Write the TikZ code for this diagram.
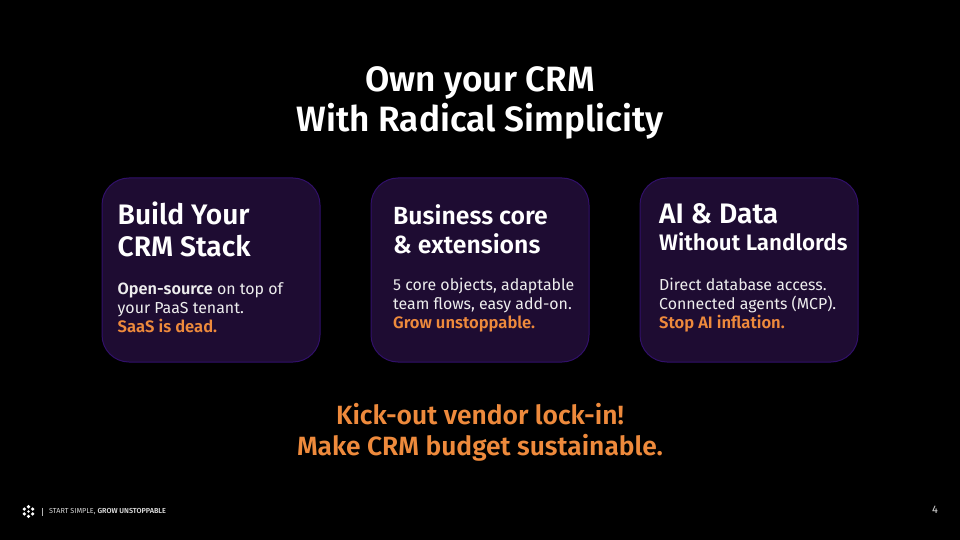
\documentclass[tikz,border=0pt]{standalone}
\usepackage{xcolor}
\usepackage{fontspec}
\usetikzlibrary{positioning,calc}
\setmainfont[BoldFont={Fira Sans SemiBold}]{Fira Sans}
\definecolor{cardfill}{HTML}{1E0C32}
\definecolor{cardline}{HTML}{31106A}
\definecolor{accent}{HTML}{EE8A3C}
\definecolor{bodytext}{HTML}{EDEDED}
\newcommand{\sized}[1]{\fontsize{#1}{#1}\selectfont}
\tikzset{
  card/.style={draw=cardline, fill=cardfill, line width=1pt, rounded corners=27pt,
               minimum width=218pt, minimum height=184pt, inner sep=0pt},
  subhead/.style={text=white, font=\sized{28.2}\bfseries, anchor=base west, inner sep=0pt},
  smallhead/.style={text=white, font=\sized{24.8}\bfseries, anchor=base west, inner sep=0pt},
  line/.style={text=bodytext, font=\sized{15.9}, anchor=base west, inner sep=0pt},
  hot/.style={text=accent, font=\sized{16.6}\bfseries, anchor=base west, inner sep=0pt},
  title/.style={text=white, font=\sized{35.2}\bfseries, anchor=base, inner sep=0pt},
  closing/.style={text=accent, font=\sized{26.4}\bfseries, anchor=base, inner sep=0pt},
  petal/.style={fill=white, inner sep=0pt, minimum size=3.6pt, circle}
}
\begin{document}
\begin{tikzpicture}[x=1pt, y=-1pt]
   \useasboundingbox[fill=black] (0,0) rectangle (960,540);

   % Title
   \node[title] (title1) at (480, 92) {Own your CRM};
   \node[title] (title2) at (480, 132) {With Radical Simplicity};

   % Cards
   \node[card] (build) at (211, 270) {};
   \node[card] (core) at (480, 270) {};
   \node[card] (data) at (749, 270) {};

   \node[subhead] (build_a) at (117.5, 224) {Build Your};
   \node[subhead] (build_b) at (117.5, 256) {CRM Stack};
   \node[line] (build_c) at (117.5, 294) {\textbf{\sized{16.3}Open-source} on top of};
   \node[line] (build_d) at (117.5, 313) {your PaaS tenant.};
   \node[hot] (build_e) at (117.5, 332) {SaaS is dead.};

   \node[smallhead] (core_a) at (393, 224) {Business core};
   \node[smallhead] (core_b) at (393, 253) {\& extensions};
   \node[line] (core_c) at (393, 290) {5 core objects, adaptable};
   \node[line] (core_d) at (393, 309) {team flows, easy add-on.};
   \node[hot] (core_e) at (393, 328) {Grow unstoppable.};

   \node[subhead] (data_a) at (659, 223) {AI \& Data};
   \node[smallhead, font=\sized{22.4}\bfseries] (data_b) at (659, 250) {Without Landlords};
   \node[line] (data_c) at (659, 290) {Direct database access.};
   \node[line] (data_d) at (659, 309) {Connected agents (MCP).};
   \node[hot] (data_e) at (659, 328) {Stop AI inflation.};

   % Closing lines
   \node[closing] (close1) at (480, 424) {Kick-out vendor lock-in!};
   \node[closing] (close2) at (480, 455) {Make CRM budget sustainable.};

   % Footer
   \foreach \a in {0,60,...,300}
     \node[petal] at ($(28.5,511.5)+(\a+30:4.8pt)$) {};
   \node[petal, minimum size=2.6pt] (logo) at (28.5, 511.5) {};
   \draw[white!70!black, line width=0.4pt] (42, 507.5) -- (42, 515.5);
   \node[text=white!85!black, font=\sized{7.25}, anchor=west, inner sep=0pt] (slogan) at (49, 511.5)
     {START SIMPLE, \textbf{GROW UNSTOPPABLE}};
   \node[text=white!85!black, font=\sized{11}, inner sep=0pt] (page) at (935, 510) {4};
\end{tikzpicture}
\end{document}
